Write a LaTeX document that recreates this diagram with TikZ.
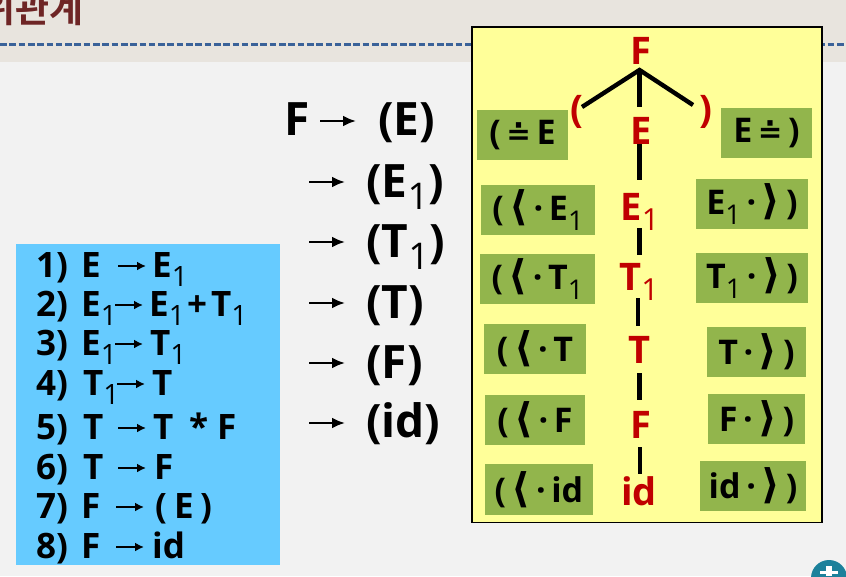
\documentclass[tikz,border=0pt]{standalone}
\usepackage{fontspec}
\setmainfont{Open Sans}
\newfontfamily\krfont{Noto Sans CJK KR Bold}
\newfontfamily\symfont{DejaVu Sans}[Scale=1.2]
\newcommand{\subn}[1]{\raisebox{-.28em}{\scalebox{.8}{\mdseries #1}}}
\newcommand{\lang}{{\symfont\char"27E8}}
\newcommand{\rang}{{\symfont\char"27E9}}
\newcommand{\deq}{\scalebox{.72}{\symfont\bfseries\char"2250}}
\newcommand{\gap}{\hspace{.16em}}
\usetikzlibrary{arrows.meta}
\definecolor{boxgreen}{HTML}{92B54C}
\definecolor{treered}{HTML}{C00000}
\definecolor{bluebox}{HTML}{66CBFF}
\definecolor{topband}{HTML}{E8E4DE}
\definecolor{page}{HTML}{F2F2F2}
\definecolor{yel}{HTML}{FFFF99}
\definecolor{ttl}{HTML}{6E2525}
\definecolor{dashc}{HTML}{3A6299}
\tikzset{
  grn/.style={fill=boxgreen,inner sep=0pt,anchor=center,font=\fontsize{34}{36}\selectfont\bfseries,text=black,minimum height=50},
  sym/.style={font=\fontsize{38}{40}\selectfont\bfseries,text=treered,inner sep=0pt,anchor=base},
  edge/.style={line width=4.4pt,black},
  rule/.style={font=\fontsize{35}{36}\selectfont\bfseries,anchor=base west,inner sep=0pt,text=black},
  der/.style={font=\fontsize{46}{46}\selectfont\bfseries,anchor=base west,inner sep=0pt,text=black},
  rarr/.style={line width=2.2pt,black,-{Latex[length=9pt,width=9pt]}},
  dara/.style={line width=2.4pt,black,-{Latex[length=13pt,width=11pt]}}
}
\newcommand{\ruleline}[3]{\coordinate (s#1) at (#2,#3); \coordinate (e#1) at (#2+28,#3); \draw[rarr] (s#1) -- (e#1);}
\newcommand{\derline}[3]{\coordinate (ds#1) at (#2,#3); \coordinate (de#1) at (#2+36,#3); \draw[dara] (ds#1) -- (de#1);}
\begin{document}
\begin{tikzpicture}[x=1pt,y=-1pt]
\useasboundingbox (0,0) rectangle (846,576);
\clip (0,0) rectangle (846,576);
\fill[page] (0,0) rectangle (846,576);
\fill[topband] (0,0) rectangle (846,62);
\draw[dashc,line width=2.2pt,dash pattern=on 6.6pt off 2.7pt] (0,44.5) -- (846,44.5);
\node[font=\krfont\fontsize{37}{38}\selectfont,text=ttl,anchor=base east,inner sep=0pt] (title) at (84,22) {위관계};
\fill[dashc!60!cyan!80!black] (829,578) circle (18);
\fill[white] (826,566) rectangle (832,576);
\fill[white] (820,571) rectangle (838,574);
% yellow panel
\node[draw=black,line width=1.8pt,fill=yel,minimum width=350,minimum height=495.5,inner sep=0,outer sep=0,anchor=north west] (panel) at (471.7,27) {};
% blue panel
\node[fill=bluebox,minimum width=264,minimum height=321,inner sep=0,outer sep=0,anchor=north west] (blue) at (16,244) {};
% rules
\node[rule] (r1n) at (36,277) {1)};
\node[rule] (r1l) at (81,277) {E};
\ruleline{1}{118}{266}
\node[rule] (r1r) at (152,277) {E\subn{1}};
\node[rule] (r2n) at (36,316) {2)};
\node[rule] (r2l) at (81,316) {E\subn{1}};
\ruleline{2}{115}{305}
\node[rule] (r2r) at (149,316) {E\subn{1}};
\node[rule] (r2p) at (187,316) {+};
\node[rule] (r2t) at (211,316) {T\subn{1}};
\node[rule] (r3n) at (36,355) {3)};
\node[rule] (r3l) at (81,355) {E\subn{1}};
\ruleline{3}{115}{344}
\node[rule] (r3r) at (150,355) {T\subn{1}};
\node[rule] (r4n) at (36,395) {4)};
\node[rule] (r4l) at (83,395) {T\subn{1}};
\ruleline{4}{117}{384}
\node[rule] (r4r) at (152,395) {T};
\node[rule] (r5n) at (36,439) {5)};
\node[rule] (r5l) at (83,439) {T};
\ruleline{5}{118}{428}
\node[rule] (r5r) at (153,439) {T};
\node[rule] (r5s) at (189,439) {*};
\node[rule] (r5f) at (217,439) {F};
\node[rule] (r6n) at (36,479) {6)};
\node[rule] (r6l) at (83,479) {T};
\ruleline{6}{118}{468}
\node[rule] (r6r) at (154,479) {F};
\node[rule] (r7n) at (36,518) {7)};
\node[rule] (r7l) at (81,518) {F};
\ruleline{7}{116}{507}
\node[rule] (r7a) at (155,518) {(};
\node[rule] (r7b) at (174,518) {E};
\node[rule] (r7c) at (200,518) {)};
\node[rule] (r8n) at (36,558) {8)};
\node[rule] (r8l) at (81,558) {F};
\ruleline{8}{116}{547}
\node[rule] (r8r) at (152,558) {id};
% derivation
\node[der] (d0) at (284,135) {F};
\derline{0}{320}{121}
\node[der] (d1) at (378,135) {(E)};
\derline{1}{309}{182}
\node[der] (d2) at (366,197) {(E\subn{1})};
\derline{2}{309}{242}
\node[der] (d3) at (366,257) {(T\subn{1})};
\derline{3}{309}{303}
\node[der] (d4) at (366,318) {(T)};
\derline{4}{309}{363}
\node[der] (d5) at (366,378) {(F)};
\derline{5}{309}{423}
\node[der] (d6) at (366,437) {(id)};
% green boxes
\node[grn,minimum width=91] (gl0) at (522.5,135) {(\,\deq\,E};
\node[grn,minimum width=91] (gr0) at (766.5,133) {E\,\deq\,)};
\node[grn,minimum width=114] (gl1) at (538,210) {(\,\lang\gap·\,E\subn{1}};
\node[grn,minimum width=112] (gr1) at (752,204) {E\subn{1}\,·\gap\rang\,)};
\node[grn,minimum width=115] (gl2) at (537.5,279) {(\,\lang\gap·\,T\subn{1}};
\node[grn,minimum width=112] (gr2) at (752,278) {T\subn{1}\,·\gap\rang\,)};
\node[grn,minimum width=102] (gl3) at (535,349) {(\,\lang\gap·\,T};
\node[grn,minimum width=99] (gr3) at (756.5,352) {T\,·\gap\rang\,)};
\node[grn,minimum width=100] (gl4) at (535,420) {(\,\lang\gap·\,F};
\node[grn,minimum width=97] (gr4) at (756.5,419) {F\,·\gap\rang\,)};
\node[grn,minimum width=108,minimum height=51] (gl5) at (539,489.5) {(\,\lang\gap·\,id};
\node[grn,minimum width=106] (gr5) at (753,486) {id\,·\gap\rang\,)};
% tree
\node[sym] (nF) at (640.5,64) {F};
\node[sym] (nlp) at (577,122) {(};
\node[sym] (nrp) at (705.5,122) {)};
\node[sym] (nE) at (641,144) {E};
\node[sym] (nE1) at (640,220) {E\subn{1}};
\node[sym] (nT1) at (639,290) {T\subn{1}};
\node[sym] (nT) at (639,363) {T};
\node[sym] (nF2) at (640.5,438) {F};
\node[sym] (nid) at (639,505) {id};
\coordinate (apex) at (639.5,70);
\coordinate (tipl) at (582,107);
\coordinate (tipr) at (693,105);
\coordinate (tipm) at (639.5,107);
\coordinate (j1a) at (639.5,144); \coordinate (j1b) at (639.5,179.5);
\coordinate (j2a) at (639.5,228); \coordinate (j2b) at (639.5,255);
\coordinate (j3a) at (638,298); \coordinate (j3b) at (638,326);
\coordinate (j4a) at (639.5,373); \coordinate (j4b) at (639.5,400);
\coordinate (j5a) at (640,447); \coordinate (j5b) at (640,474);
\draw[edge] (tipl) -- (apex) -- (tipr);
\draw[edge] (apex) -- (tipm);
\draw[edge] (j1a) -- (j1b);
\draw[edge] (j2a) -- (j2b);
\draw[edge] (j3a) -- (j3b);
\draw[edge] (j4a) -- (j4b);
\draw[edge] (j5a) -- (j5b);
\end{tikzpicture}
\end{document}
